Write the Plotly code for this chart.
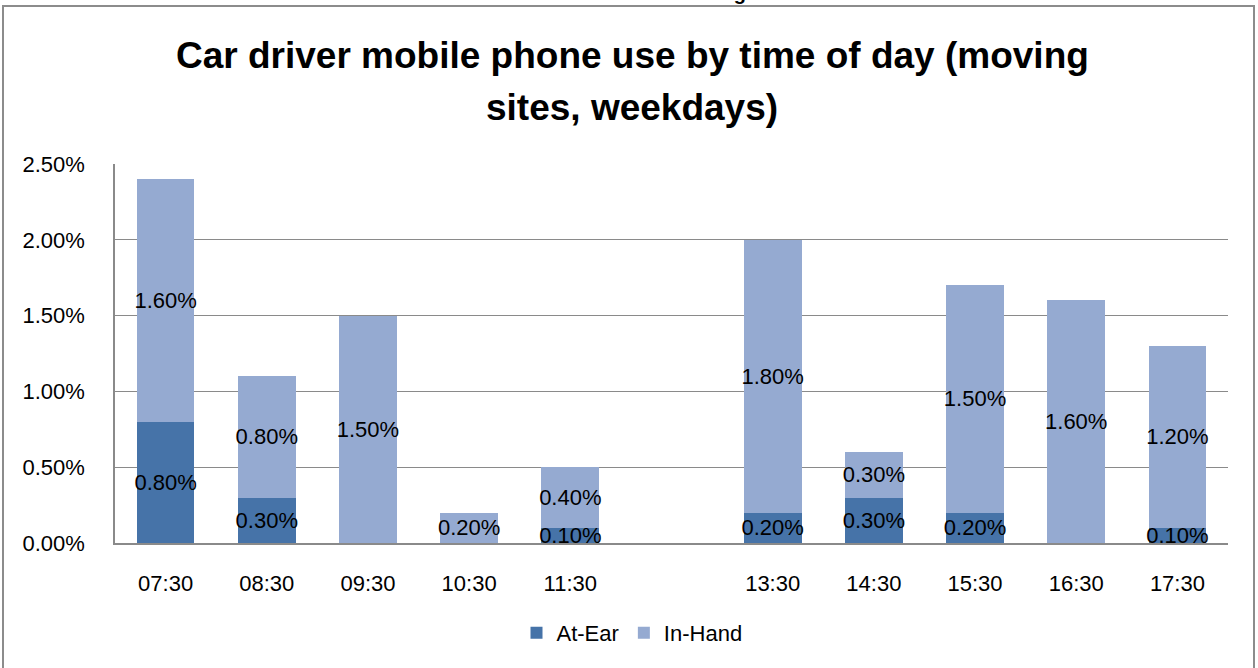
import plotly.graph_objects as go

categories = ["07:30", "08:30", "09:30", "10:30", "11:30", "12:30",
              "13:30", "14:30", "15:30", "16:30", "17:30"]
tick_labels = ["07:30", "08:30", "09:30", "10:30", "11:30", "",
               "13:30", "14:30", "15:30", "16:30", "17:30"]
at_ear = [0.8, 0.3, None, None, 0.1, None, 0.2, 0.3, 0.2, None, 0.1]
in_hand = [1.6, 0.8, 1.5, 0.2, 0.4, None, 1.8, 0.3, 1.5, 1.6, 1.2]
y_ticks = [0.0, 0.5, 1.0, 1.5, 2.0, 2.5]

FONT = "Liberation Sans"
DARK = "#4673A8"
LIGHT = "#95AAD1"
GRID = "#8A8A8A"
FS = 22

fig = go.Figure()
fig.add_trace(go.Bar(
    name="At-Ear", x=categories, y=at_ear, marker=dict(color=DARK, line=dict(width=0)),
    texttemplate="%{y:.2f}%", textposition="inside", insidetextanchor="middle", textangle=0,
    textfont=dict(family=FONT, size=FS, color="black"), cliponaxis=False,
))
fig.add_trace(go.Bar(
    name="In-Hand", x=categories, y=in_hand, marker=dict(color=LIGHT, line=dict(width=0)),
    texttemplate="%{y:.2f}%", textposition="inside", insidetextanchor="middle", textangle=0,
    textfont=dict(family=FONT, size=FS, color="black"), cliponaxis=False,
))

L, R, T, B = 115, 30, 164, 125
W, H = 1258, 668
pw = W - L - R
ph = H - T - B

def px_x(x):
    return (x - L) / pw

def px_y(y):
    return (H - B - y) / ph

fig.update_layout(
    width=W, height=H,
    margin=dict(l=L, r=R, t=T, b=B, pad=0),
    barmode="stack", bargap=0.43,
    uniformtext=dict(mode=False),
    plot_bgcolor="white", paper_bgcolor="white",
    font=dict(family=FONT, size=FS, color="black"),
    showlegend=True,
    legend=dict(orientation="h", x=px_x(632), xanchor="center", y=px_y(633), yanchor="middle",
                font=dict(family=FONT, size=FS), traceorder="normal", itemwidth=30),
    xaxis=dict(type="category", categoryorder="array", categoryarray=categories,
               tickmode="array", tickvals=categories, ticktext=tick_labels,
               showgrid=False, showline=True, linecolor=GRID, linewidth=1.5,
               ticks="", ticklabelstandoff=20, tickfont=dict(family=FONT, size=FS)),
    yaxis=dict(range=[0, 2.5], tickmode="array", tickvals=y_ticks,
               ticktext=[f"{v:.2f}%" for v in y_ticks],
               showgrid=True, gridcolor=GRID, gridwidth=1.2,
               showline=True, linecolor=GRID, linewidth=1.5, zeroline=False,
               ticks="", ticklabelstandoff=24, tickfont=dict(family=FONT, size=FS)),
    annotations=[
        dict(text="<b>Car driver mobile phone use by time of day (moving</b>", xref="paper", yref="paper",
             x=px_x(632), y=px_y(55), xanchor="center", yanchor="middle", showarrow=False,
             font=dict(family=FONT, size=37, color="black")),
        dict(text="<b>sites, weekdays)</b>", xref="paper", yref="paper",
             x=px_x(632), y=px_y(108), xanchor="center", yanchor="middle", showarrow=False,
             font=dict(family=FONT, size=37, color="black")),
        dict(text="<b>Figure 16</b>", xref="paper", yref="paper",
             x=px_x(760), y=px_y(6), xanchor="center", yanchor="bottom", showarrow=False,
             font=dict(family=FONT, size=20, color="black")),
    ],
    shapes=[
        dict(type="rect", xref="paper", yref="paper",
             x0=px_x(3), x1=px_x(1254), y0=px_y(6), y1=px_y(700),
             line=dict(color="#8C8C8C", width=2), fillcolor="rgba(0,0,0,0)", layer="below"),
    ],
)
fig.layout.barmode = "stack"
fig.update_layout(template=None)
fig.layout.uniformtext = dict(mode=False)
fig.update_traces(constraintext="none")

fig.write_html("out.html")
